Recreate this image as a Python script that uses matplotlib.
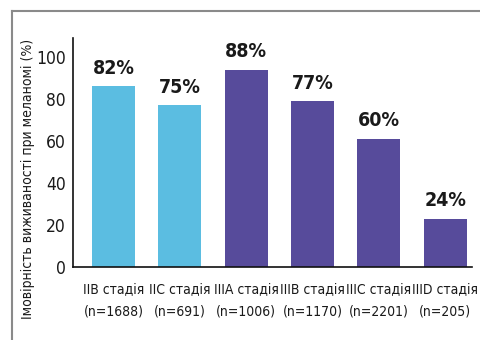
import matplotlib.pyplot as plt
from matplotlib.lines import Line2D

# data
stages = ['IIB стадія', 'IIC стадія', 'IIIA стадія', 'IIIB стадія', 'IIIC стадія', 'IIID стадія']
counts = ['(n=1688)', '(n=691)', '(n=1006)', '(n=1170)', '(n=2201)', '(n=205)']
heights = [86, 77, 94, 79, 61, 23]
value_labels = ['82%', '75%', '88%', '77%', '60%', '24%']
groups = ['II', 'II', 'III', 'III', 'III', 'III']

group_colors = {'II': '#5bbde1', 'III': '#574b9b'}

plt.rcParams['font.family'] = ['DejaVu Sans']
plt.rcParams['font.stretch'] = 'condensed'

fig = plt.figure(figsize=(4.8, 3.4), dpi=100)
ax = fig.add_axes([0.152, 0.215, 0.831, 0.673])

x = list(range(len(stages)))
colors = [group_colors[g] for g in groups]
bars = ax.bar(x, heights, width=0.65, color=colors)

# value labels above the bars
for b, lab in zip(bars, value_labels):
    ax.text(b.get_x() + b.get_width() / 2, b.get_height() + 4, lab,
            ha='center', va='bottom', fontsize=14, fontweight='bold', color='#1a1a1a')

ax.set_xlim(-0.61, 5.4)
ax.set_ylim(0, 109)
ax.set_yticks([0, 20, 40, 60, 80, 100])
ax.set_xticks(x)
ax.set_xticklabels([s + '\n' + c for s, c in zip(stages, counts)], fontsize=10, linespacing=1.6)
ax.tick_params(axis='y', length=0, pad=5, labelsize=12.5, labelcolor='#1a1a1a')
ax.tick_params(axis='x', length=0, pad=12, labelcolor='#1a1a1a')
for side in ['top', 'right']:
    ax.spines[side].set_visible(False)
for side in ['left', 'bottom']:
    ax.spines[side].set_linewidth(1.2)
    ax.spines[side].set_color('#111111')

fig.text(0.058, 0.475, 'Імовірність виживаності при меланомі (%)', rotation=90,
         ha='center', va='center', fontsize=10, color='#1a1a1a')

# grey frame (top and left edges visible)
fig.add_artist(Line2D([0.025, 1.0], [0.968, 0.968], color='#8a8a8a', lw=1.5))
fig.add_artist(Line2D([0.025, 0.025], [0.0, 0.968], color='#8a8a8a', lw=1.5))

fig.savefig('out.png', dpi=100)
